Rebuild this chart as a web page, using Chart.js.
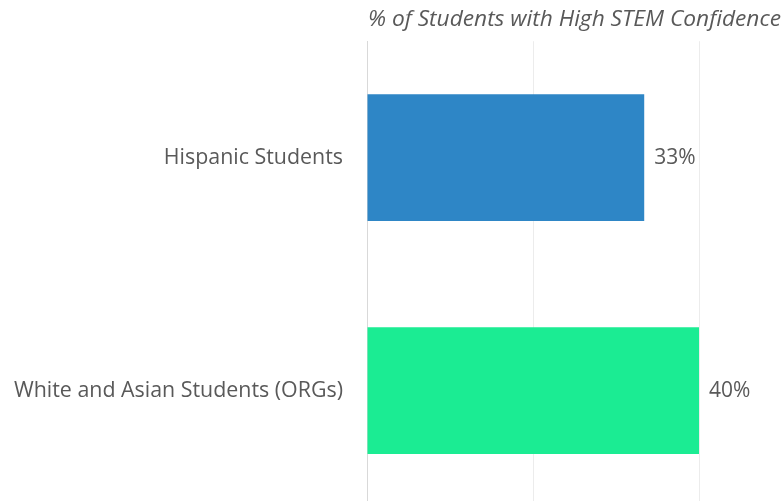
<!DOCTYPE html>
<html>
<head>
<meta charset="utf-8">
<script src="https://cdn.jsdelivr.net/npm/chart.js@4"></script>
<style>
  html, body { margin: 0; padding: 0; background: #fff; overflow: hidden; }
  canvas { display: block; }
</style>
</head>
<body>
<canvas id="chart" width="782" height="507"></canvas>
<script>
const categories = ['Hispanic Students', 'White and Asian Students (ORGs)'];
const confidence = [33.4, 40];
const valueLabels = ['33%', '40%'];
const barColors = ['#2E86C6', '#1BEC93'];
const gridTicks = [0, 20, 40];

const textGray = '#595959';
const fontFamily = "'Open Sans', 'Noto Sans', sans-serif";

// value labels just past the end of each bar
const endLabels = {
  id: 'endLabels',
  afterDatasetsDraw(chart) {
    const ctx = chart.ctx;
    const meta = chart.getDatasetMeta(0);
    ctx.save();
    ctx.fillStyle = textGray;
    ctx.font = `21px ${fontFamily}`;
    ctx.textAlign = 'left';
    ctx.textBaseline = 'middle';
    meta.data.forEach((bar, i) => {
      ctx.fillText(valueLabels[i], bar.x + 10, bar.y);
    });
    ctx.restore();
  },
};

const ctx = document.getElementById('chart').getContext('2d');
new Chart(ctx, {
  type: 'bar',
  data: {
    labels: categories,
    datasets: [{
      data: confidence,
      backgroundColor: barColors,
      borderWidth: 0,
      categoryPercentage: 1,
      barPercentage: 0.544,
    }],
  },
  options: {
    indexAxis: 'y',
    responsive: false,
    animation: false,
    layout: { padding: 0 },
    plugins: {
      legend: { display: false },
      tooltip: { enabled: false },
      title: {
        display: true,
        text: '% of Students with High STEM Confidence',
        fullSize: false,
        align: 'center',
        color: textGray,
        font: { family: fontFamily, size: 22.7, style: 'italic', weight: 'normal' },
        padding: { top: 6, bottom: 8 },
      },
    },
    scales: {
      x: {
        min: 0,
        max: 50,
        afterBuildTicks: (scale) => {
          scale.ticks = gridTicks.map(v => ({ value: v }));
        },
        afterFit: (scale) => { scale.height = 0; },
        ticks: { display: false },
        grid: { color: '#ececec', drawTicks: false },
        border: { display: false },
      },
      y: {
        afterFit: (scale) => {
          scale.width = 367;
          scale.paddingTop = 0;
          scale.paddingBottom = 0;
        },
        ticks: {
          color: textGray,
          padding: 24,
          font: { family: fontFamily, size: 21.4 },
        },
        grid: { display: false, drawTicks: false },
        border: { display: true, color: '#d9d9d9' },
      },
    },
  },
  plugins: [endLabels],
});
</script>
</body>
</html>
